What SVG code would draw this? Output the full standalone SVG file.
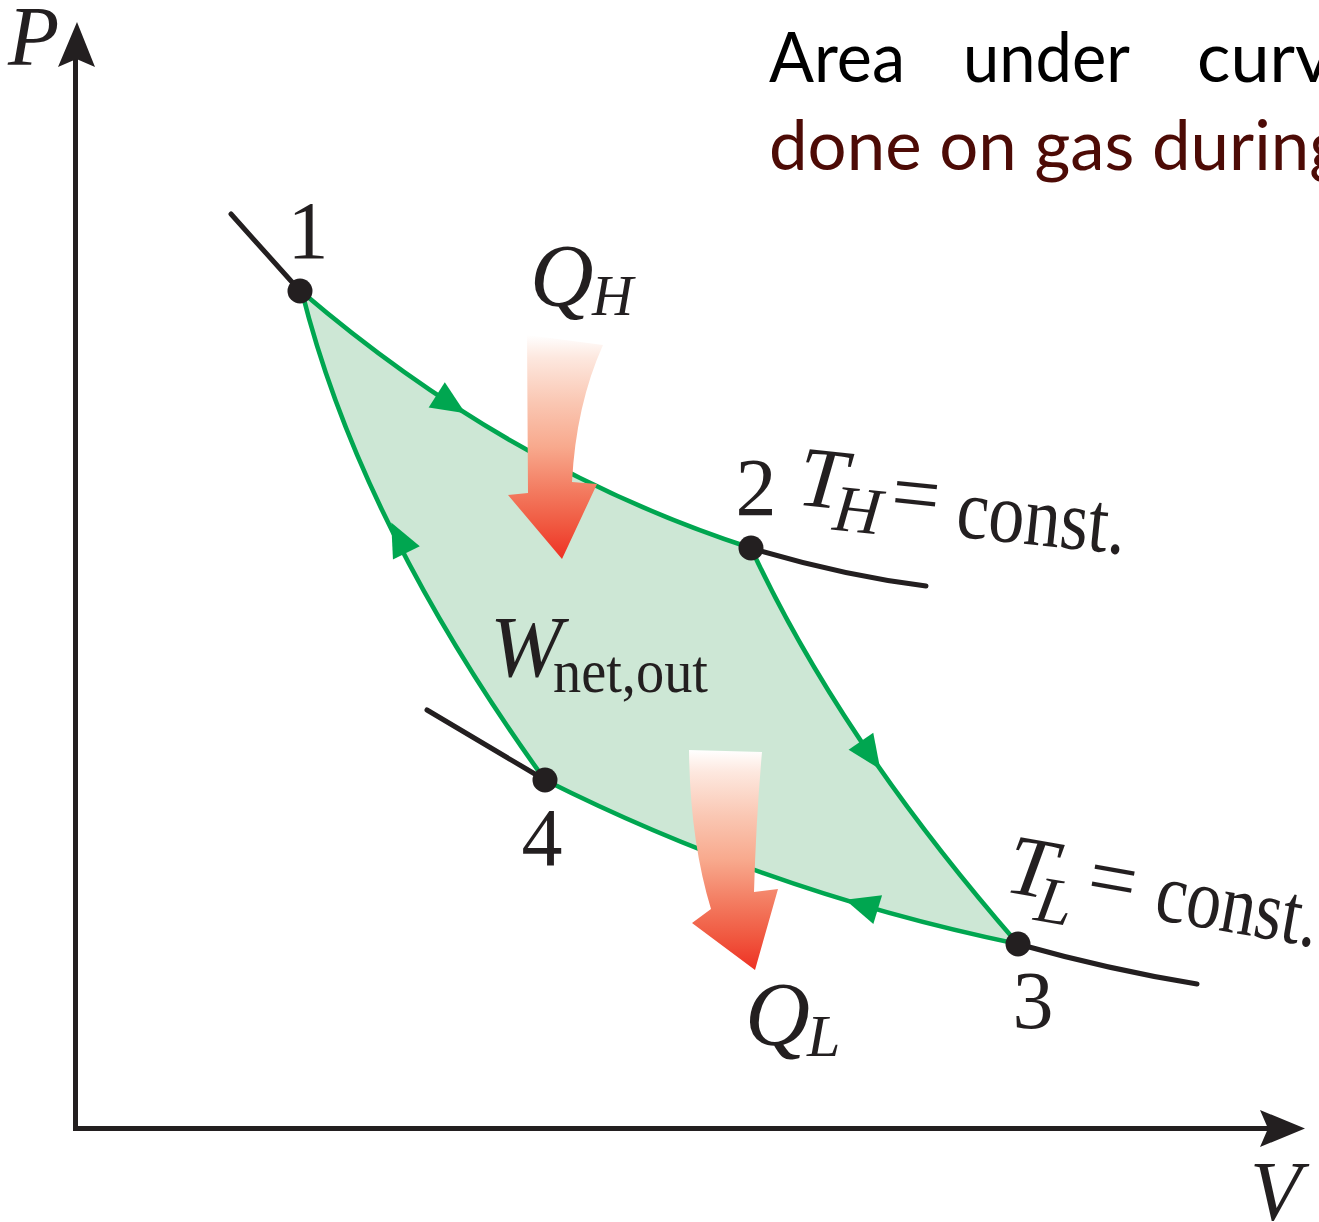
<svg xmlns="http://www.w3.org/2000/svg" width="1319" height="1222" viewBox="0 0 1319 1222">
<defs>
<style>
.axis{stroke:#231F20;stroke-width:5;fill:none}
.axhead{fill:#231F20}
.iso{stroke:#231F20;stroke-width:5;fill:none;stroke-linecap:round}
.edge{stroke:#00A650;stroke-width:4.6;fill:none;stroke-linejoin:round}
.ah{fill:#00A650}
.dot{fill:#231F20}
.serif{font-family:"Liberation Serif","Times New Roman",serif;fill:#231F20}
.it{font-style:italic}
.num{font-size:82px;text-anchor:middle}
.top{font-family:Lato,"Open Sans",sans-serif;font-size:70px}
</style>
<linearGradient id="heat" x1="0" y1="0" x2="0" y2="1">
<stop offset="0" stop-color="#FFFFFF"/>
<stop offset="0.1" stop-color="#FDE8DF"/>
<stop offset="0.3" stop-color="#FAC7B3"/>
<stop offset="0.5" stop-color="#F8A98D"/>
<stop offset="0.7" stop-color="#F37A5F"/>
<stop offset="0.85" stop-color="#F05840"/>
<stop offset="1" stop-color="#EE3124"/>
</linearGradient>
<polygon id="ahead" points="4,0 -30,-15 -30,15"/>
</defs>
<rect width="1319" height="1222" fill="#FFFFFF"/>

<g id="axes">
<path class="axis" d="M75.5,1128.5 V55 M73,1128.5 H1275"/>
<polygon class="axhead" points="77,22 95,67 76.5,59 58,67"/>
<polygon class="axhead" points="1305,1128.5 1260,1110 1268,1128.5 1260,1147"/>
<text class="serif it" x="8" y="65" font-size="84">P</text>
<text class="serif it" x="1250" y="1220" font-size="84">V</text>
</g>

<path id="cycle-area" fill="#CDE7D5" d="M302,292 Q510,470 751,548 Q840,740 1018,944 Q770,893 545,780 Q360,524 302,292 Z"/>

<g id="isotherms">
<path class="iso" d="M231,214 L300,291"/>
<path class="iso" d="M751,548 Q840,575 926,586"/>
<path class="iso" d="M427,710 L545,780"/>
<path class="iso" d="M1018,944 Q1110,970 1197,984"/>
</g>

<g id="connectors">
<path class="edge" d="M302,292 Q510,470 751,548"/>
<path class="edge" d="M751,548 Q840,740 1018,944"/>
<path class="edge" d="M1018,944 Q770,893 545,780"/>
<path class="edge" d="M545,780 Q360,524 302,292"/>
<use href="#ahead" class="ah" transform="translate(462,411) rotate(32.6)"/>
<use href="#ahead" class="ah" transform="translate(878,766) rotate(55.3)"/>
<use href="#ahead" class="ah" transform="translate(849,901) rotate(196.9)"/>
<use href="#ahead" class="ah" transform="translate(393,526) rotate(-116.5)"/>
</g>

<g id="node-1"><circle class="dot" cx="300" cy="291" r="12.5"/><text class="serif num" x="308" y="258">1</text></g>
<g id="node-2"><circle class="dot" cx="751" cy="548" r="12.5"/><text class="serif num" x="756" y="515">2</text></g>
<g id="node-3"><circle class="dot" cx="1018" cy="944" r="12.5"/><text class="serif num" x="1033" y="1028">3</text></g>
<g id="node-4"><circle class="dot" cx="545" cy="780" r="12.5"/><text class="serif num" x="542" y="865">4</text></g>

<g id="heat-in">
<path fill="url(#heat)" d="M527,335 L603,345 Q576,405 572,482 L597,484 L562,559 L508,495 L528,493 Z"/>
<text class="serif it" x="530" y="305" font-size="88">Q</text>
<text class="serif it" x="592" y="315" font-size="57">H</text>
</g>

<g id="heat-out">
<path fill="url(#heat)" d="M689,750 L762,752 Q756,820 754,892 L778,889 L755,970 L692,923 L711,909 Q690,840 689,750 Z"/>
<text class="serif it" x="745" y="1045" font-size="90">Q</text>
<text class="serif it" x="807" y="1056" font-size="60">L</text>
</g>

<g id="work-label">
<text class="serif it" x="490" y="676" font-size="87">W</text>
<text class="serif" x="553" y="692" font-size="62" textLength="155" lengthAdjust="spacingAndGlyphs">net,out</text>
</g>

<g id="label-TH" transform="translate(800,505) rotate(6)">
<text class="serif it" x="-4" y="0" font-size="86">T</text>
<text class="serif it" x="34" y="21" font-size="66">H</text>
<text class="serif" x="90" y="5" font-size="86">=</text>
<text class="serif" x="157" y="15" font-size="86" textLength="170" lengthAdjust="spacingAndGlyphs">const.</text>
</g>

<g id="label-TL" transform="translate(1007,892) rotate(10)">
<text class="serif it" x="-4" y="0" font-size="86">T</text>
<text class="serif it" x="30" y="23" font-size="66">L</text>
<text class="serif" x="78" y="-3" font-size="86">=</text>
<text class="serif" x="148" y="1" font-size="86" textLength="164" lengthAdjust="spacingAndGlyphs">const.</text>
</g>

<g id="caption">
<text class="top" y="82" fill="#000000"><tspan x="769" textLength="136" lengthAdjust="spacingAndGlyphs">Area</tspan><tspan x="963" textLength="167" lengthAdjust="spacingAndGlyphs">under</tspan><tspan x="1197">curv</tspan></text>
<text class="top" x="769" y="170" fill="#4D0B06" textLength="576" lengthAdjust="spacingAndGlyphs">done on gas during</text>
</g>
</svg>
